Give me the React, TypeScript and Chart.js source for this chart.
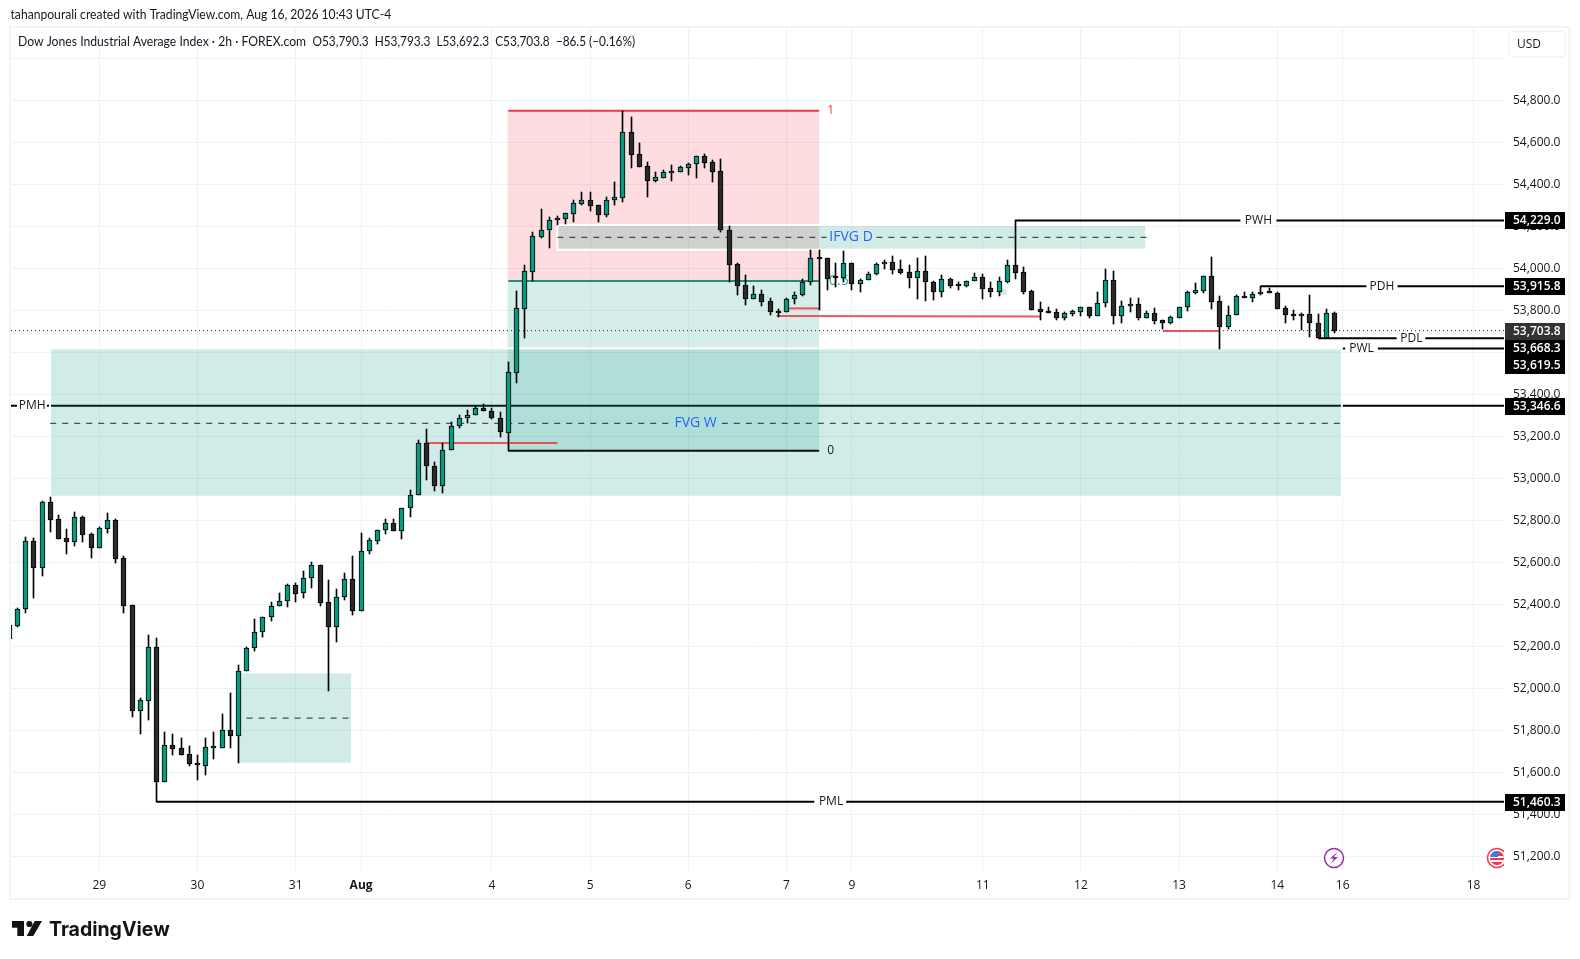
import React, { useEffect, useRef } from "react";
import { Chart, registerables } from "chart.js";

Chart.register(...registerables);

const FONT = '"Open Sans", "Noto Sans", sans-serif';
const HEAD = 'Lato, "Open Sans", sans-serif';
const TEXT = "#131722";
const UP = "#089981";
const DOWN = "#2a2a2a";

const firstBar = -11;
const opens = [52237,52299,52377,52701,52572,52887,52806,52715,52699,52815,52734,52671,52761,52801,52620,52396,51894,51942,52196,51556,51729,51715,51686,51639,51633,51718,51715,51801,51772,52082,52191,52267,52339,52391,52415,52491,52453,52525,52587,52410,52294,52434,52520,52371,52653,52704,52753,52787,52752,52858,52920,53167,53058,52966,53134,53248,53287,53301,53334,53320,53287,53218,53504,53809,53985,54152,54182,54229,54237,54261,54309,54325,54301,54255,54325,54337,54648,54544,54487,54418,54433,54456,54461,54480,54496,54534,54506,54463,54182,54020,53920,53853,53877,53844,53791,53791,53853,53872,53934,54048,54048,53955,53956,54025,53925,53944,53972,54020,54029,53996,53982,53953,53986,53934,53886,53948,53917,53918,53939,53958,53906,53890,53937,54015,53982,53891,53806,53796,53791,53766,53785,53794,53815,53775,53834,53944,53775,53820,53829,53766,53786,53753,53742,53766,53815,53885,53894,53963,53844,53723,53777,53867,53858,53877,53886,53882,53810,53777,53772,53782,53739,53671,53790.3];
const highs = [52301,52382,52720,52715,52893,52910,52825,52758,52839,52820,52739,52767,52834,52806,52629,52396,51953,52253,52239,51791,51782,51763,51725,51682,51763,51791,51877,51977,52110,52196,52329,52339,52412,52453,52496,52501,52558,52602,52587,52515,52472,52550,52631,52739,52715,52753,52806,52806,52858,52944,53182,53234,53077,53167,53267,53301,53325,53344,53353,53334,53315,53553,53891,54015,54172,54283,54244,54248,54263,54325,54363,54363,54301,54339,54410,54748,54720,54596,54506,54458,54468,54491,54487,54501,54534,54544,54515,54520,54201,54025,53967,53915,53896,53858,53806,53858,53886,53948,54086,54086,54048,54025,54082,54025,53948,53982,54025,54039,54058,54039,54015,54048,54058,53939,53967,53953,53934,53939,53977,53972,53934,53958,54039,54230,54006,53896,53839,53815,53806,53791,53801,53815,53815,53886,53996,53986,53844,53858,53858,53796,53810,53753,53772,53815,53891,53929,53963,54053,53867,53820,53872,53886,53886,53918,53906,53886,53820,53801,53786,53872,53782,53806,53793.3];
const lows = [52237,52294,52361,52433,52537,52747,52713,52642,52680,52699,52623,52671,52742,52599,52361,51866,51785,51852,51460,51556,51685,51685,51632,51566,51588,51666,51715,51718,51647,52082,52180,52247,52323,52391,52390,52414,52433,52480,52394,51987,52223,52423,52352,52371,52642,52690,52737,52748,52714,52818,52920,52994,52942,52933,53134,53239,53263,53301,53320,53282,53199,53133,53455,53671,53941,54147,54099,54207,54212,54221,54304,54275,54221,54247,54302,54318,54480,54485,54342,54412,54433,54417,54461,54447,54433,54480,54414,54172,53937,53875,53828,53853,53823,53780,53771,53791,53829,53867,53921,53802,53896,53910,53934,53896,53890,53944,53967,53996,53972,53972,53909,53856,53847,53852,53863,53906,53896,53913,53939,53856,53866,53871,53929,53950,53880,53804,53756,53790,53756,53756,53775,53775,53766,53775,53818,53737,53742,53791,53756,53766,53737,53710,53737,53766,53799,53877,53885,53809,53618,53714,53777,53858,53842,53872,53882,53809,53742,53753,53709,53675,53671,53671,53692.3];
const closes = [52301,52377,52701,52572,52887,52804,52713,52699,52815,52733,52671,52763,52801,52618,52394,51894,51944,52196,51556,51729,51713,51685,51639,51637,51720,51720,51801,51772,52082,52191,52267,52339,52391,52415,52491,52452,52525,52587,52409,52294,52434,52520,52371,52653,52706,52753,52787,52752,52858,52920,53167,53058,52966,53134,53248,53287,53301,53334,53320,53287,53220,53506,53810,53987,54153,54182,54229,54239,54263,54310,54325,54299,54256,54325,54339,54648,54542,54485,54418,54434,54458,54463,54482,54496,54534,54504,54461,54182,54018,53918,53853,53877,53842,53791,53790,53853,53872,53934,54048,54047,53952,53953,54025,53925,53944,53972,54020,54029,53994,53980,53953,53986,53934,53886,53948,53915,53915,53939,53958,53904,53890,53939,54015,53980,53890,53804,53794,53790,53766,53786,53796,53815,53775,53834,53944,53775,53820,53829,53766,53786,53752,53742,53767,53815,53886,53896,53963,53842,53723,53777,53867,53858,53877,53886,53885,53809,53777,53775,53782,53739,53671,53786,53703.8];

const xTickValues = [0, 12, 24, 32, 48, 60, 72, 84, 92, 108, 120, 132, 144, 152, 168];
const xTickLabels = ["29", "30", "31", "Aug", "4", "5", "6", "7", "9", "11", "12", "13", "14", "16", "18"];
const yTickValues = [51200,51400,51600,51800,52000,52200,52400,52600,52800,53000,53200,53400,53600,53800,54000,54200,54400,54600,54800,55000];

const xMin = -10.795, xMax = 171.72, yMin = 51130.8, yMax = 55145.2;
const lastPrice = 53703.8;

// level lines: [price, first bar, gap start, gap end, label]
const pmh = 53346.6, pml = 51460.3, pwh = 54229, pwl = 53619.5, pdh = 53915.8, pdl = 53668.3;
const fibOne = 54751.6, fibHalf = 53940.4, fibZero = 53132.6;
const levelLines: [number, number, number, number][] = [
  [pmh, xMin, -10.06, -6.39],
  [pml, 7, 87.4, 91.3],
  [pwh, 112, 139.5, 143.9],
  [pdh, 142, 154.9, 158.7],
  [pdl, 149, 158.6, 162.1],
  [pwl, 152, 152.3, 156.3],
];
const levelLabels: [string, number, number][] = [
  ["PMH", -8.2, pmh], ["PML", 89.45, pml], ["PWH", 141.7, pwh],
  ["PDH", 156.8, pdh], ["PDL", 160.4, pdl], ["PWL", 154.3, pwl],
];
// thin red sweep lines: x1, y1, x2, y2
const sweepLines: [number, number, number, number][] = [
  [40, 53169, 56, 53169],
  [84.3, 53810, 88, 53810],
  [82.8, 53774, 115, 53771],
  [130, 53702, 137, 53702],
];
// dashed middles: price, x1, x2, gap1, gap2
const midLines: [number, number, number, number, number][] = [
  [53262.8, -6, 151.9, 69.7, 76.1],
  [54148.5, 56, 128, 88.9, 95],
  [51859, 17, 30.9, 17, 18],
];
const boxFVGW = [-6.03, 151.9, pwl, 52913];
const boxIFVG = [56, 128, 54207, 54089.5];
const boxFVGSmall = [16.9, 30.9, 52076.7, 51641.8];
const boxRisk = [49.9, 88, fibOne, fibHalf];
const boxReward = [49.9, 88, fibHalf, fibZero];
const boxFragment = [109.9, 110.9, 53902, 53874];

// price tags: text, anchor price for the box, fill
const priceTags: [string, number, string][] = [
  ["54,229.0", 54229, "#000"], ["53,915.8", 53915.8, "#000"], ["53,703.8", 53703.8, "#333"],
  ["53,668.3", 53619.5, "#000"], ["53,619.5", 53540, "#000"], ["53,346.6", 53346.6, "#000"], ["51,460.3", 51460.3, "#000"],
];

const titleText = "tahanpourali created with TradingView.com, Aug 16, 2026 10:43 UTC-4";
const legendText = "Dow Jones Industrial Average Index · 2h · FOREX.com";
const legendOHLC = "O53,790.3  H53,793.3  L53,692.3  C53,703.8  −86.5 (−0.16%)";

const drawBox = (c: any, ctx: any, b: number[], fill: string, border: boolean) => {
  const { x, y } = c.scales;
  const l = x.getPixelForValue(b[0]), r = x.getPixelForValue(b[1]);
  const t = y.getPixelForValue(b[2]), bt = y.getPixelForValue(b[3]);
  ctx.fillStyle = fill;
  ctx.fillRect(l, t, r - l, bt - t);
  if (border) {
    ctx.strokeStyle = "#fff";
    ctx.lineWidth = 2;
    ctx.strokeRect(l, t, r - l, bt - t);
  }
};

const txt = (ctx: any, s: string, x: number, y: number, color: string, size = 12, align = "left", weight = "normal", family = FONT) => {
  ctx.fillStyle = color;
  ctx.font = `${weight} ${size}px ${family}`;
  ctx.textAlign = align;
  ctx.textBaseline = "middle";
  ctx.fillText(s, x, y);
};

// header text set narrower than the installed faces
const narrow = (ctx: any, s: string, x: number, y: number, k: number) => {
  ctx.save();
  ctx.translate(x, y);
  ctx.scale(k, 1);
  txt(ctx, s, 0, 0, TEXT, 13, "left", "normal", HEAD);
  ctx.restore();
};

const overlay = {
  id: "overlay",
  afterDatasetUpdate(c: any, args: any) {
    const meta = args.meta ?? c.getDatasetMeta(args.index);
    if (meta.type !== "bar") return;
    meta.data.forEach((el: any) => {
      el.x = Math.floor(el.x) + 0.5;
      el.y = Math.round(el.y);
      el.base = Math.round(el.base);
    });
  },
  beforeDatasetDraw(c: any, args: any) {
    if (c.data.datasets[args.index].label !== "fib1") return;
    const ctx = c.ctx;
    const { x, y } = c.scales;
    ctx.save();
    const a = c.chartArea;
    ctx.beginPath();
    ctx.rect(a.left, a.top, a.right - a.left, a.bottom - a.top);
    ctx.clip();
    drawBox(c, ctx, boxRisk, "rgba(242,54,69,0.17)", false);
    drawBox(c, ctx, boxReward, "rgba(8,153,129,0.17)", false);
    drawBox(c, ctx, boxFVGW, "rgba(8,153,129,0.19)", true);
    drawBox(c, ctx, boxFVGSmall, "rgba(8,153,129,0.19)", true);
    drawBox(c, ctx, boxIFVG, "rgba(8,153,129,0.19)", true);
    drawBox(c, ctx, boxFragment, "rgba(8,153,129,0.19)", false);
    txt(ctx, "0.5", x.getPixelForValue(89.2), y.getPixelForValue(fibHalf), "#2fa693", 14);
    ctx.restore();
  },
  afterDatasetsDraw(c: any) {
    const ctx = c.ctx;
    const { x, y } = c.scales;
    ctx.save();
    levelLabels.forEach(([s, i, p]) => txt(ctx, s, x.getPixelForValue(i), y.getPixelForValue(p), TEXT, 12, "center"));
    txt(ctx, "FVG W", x.getPixelForValue(72.9), y.getPixelForValue(53262.8), "#2962ff", 14, "center");
    txt(ctx, "IFVG D", x.getPixelForValue(91.9), y.getPixelForValue(54148.5), "#2962ff", 14, "center");
    txt(ctx, "1", x.getPixelForValue(89), y.getPixelForValue(fibOne), "#f23645", 12);
    txt(ctx, "0", x.getPixelForValue(89), y.getPixelForValue(fibZero), TEXT, 12);

    // economic-event icons on the time line
    const a = c.chartArea;
    ctx.beginPath();
    ctx.arc(1334, 858, 9.5, 0, Math.PI * 2);
    ctx.fillStyle = "#fff";
    ctx.fill();
    ctx.lineWidth = 1.5;
    ctx.strokeStyle = "#9c27b0";
    ctx.stroke();
    ctx.fillStyle = "#9c27b0";
    ctx.beginPath();
    ctx.moveTo(1337.5, 852); ctx.lineTo(1330, 858.5); ctx.lineTo(1334, 858.5);
    ctx.lineTo(1330.5, 864); ctx.lineTo(1338, 857); ctx.lineTo(1334, 857); ctx.closePath();
    ctx.fill();

    ctx.save();
    ctx.beginPath();
    ctx.rect(a.left, a.top, a.right - a.left, a.bottom - a.top);
    ctx.clip();
    ctx.beginPath();
    ctx.arc(1497, 858, 9.5, 0, Math.PI * 2);
    ctx.strokeStyle = "#f23645";
    ctx.lineWidth = 1.5;
    ctx.stroke();
    ctx.beginPath();
    ctx.arc(1497, 858, 7, 0, Math.PI * 2);
    ctx.clip();
    ctx.fillStyle = "#f23645";
    ctx.fillRect(1488, 850, 18, 16);
    ctx.fillStyle = "#fff";
    ctx.fillRect(1488, 856, 18, 2);
    ctx.fillRect(1488, 860, 18, 2);
    ctx.fillStyle = "#2f80ed";
    ctx.fillRect(1488, 850, 10, 7);
    ctx.restore();
    ctx.restore();
  },
  afterDraw(c: any) {
    const ctx = c.ctx;
    const { y } = c.scales;
    ctx.save();
    // chart frame
    ctx.strokeStyle = "#f2f3f5";
    ctx.lineWidth = 2;
    ctx.strokeRect(10, 27, 1559.5, 872);
    // price tags
    priceTags.forEach(([s, p, col]) => {
      const cy = Math.round(y.getPixelForValue(p));
      ctx.fillStyle = col;
      ctx.fillRect(1505, cy - 8, 60, 17);
      txt(ctx, s, 1513, cy + 0.5, "#fff", 12, "left", "600");
    });
    // currency button
    ctx.strokeStyle = "#f0f3fa";
    ctx.lineWidth = 1.5;
    ctx.beginPath();
    ctx.roundRect(1508.5, 31.5, 57, 25, 4);
    ctx.stroke();
    txt(ctx, "USD", 1517, 44.5, TEXT, 12);
    // header
    narrow(ctx, titleText, 10.5, 15, 0.933);
    narrow(ctx, legendText, 18, 42, 0.937);
    narrow(ctx, legendOHLC, 312.5, 42, 0.91);
    // brand
    ctx.fillStyle = "#131313";
    ctx.fillRect(12, 921, 12, 6.7);
    ctx.fillRect(17.3, 921, 6.7, 15);
    ctx.beginPath();
    ctx.arc(29.4, 924, 3.1, 0, Math.PI * 2);
    ctx.fill();
    ctx.beginPath();
    ctx.moveTo(34.7, 921); ctx.lineTo(42, 921); ctx.lineTo(33.3, 936); ctx.lineTo(26.7, 936);
    ctx.closePath();
    ctx.fill();
    txt(ctx, "TradingView", 49, 930.5, "#131313", 19.5, "left", "700", "Inter, sans-serif");
    ctx.restore();
  },
};

export default function App() {
  const ref = useRef<HTMLCanvasElement>(null);
  useEffect(() => {
    const bars = opens.map((_, k) => k + firstBar);
    const levelDatasets = levelLines.map(([p, start, g1, g2], k) => ({
      type: "line" as const,
      label: `level${k}`,
      order: 30,
      data: [
        { x: start, y: p }, { x: g1, y: p }, { x: g1 + 0.01, y: NaN }, { x: g2, y: p }, { x: xMax, y: p },
      ],
      borderColor: "#000",
      borderWidth: 2,
      pointRadius: 0,
      spanGaps: false,
    }));
    const lineBase = { type: "line" as const, pointRadius: 0, spanGaps: false };
    const chart = new Chart(ref.current!, {
      type: "bar",
      data: {
        datasets: [
          ...levelDatasets,
          { ...lineBase, label: "last", order: 29, data: [{ x: xMin, y: lastPrice }, { x: xMax, y: lastPrice }], borderColor: TEXT, borderWidth: 1, borderDash: [1, 3] },
          { ...lineBase, label: "fib1", order: 20, data: [{ x: 50, y: fibOne }, { x: 88, y: fibOne }], borderColor: "#f23645", borderWidth: 2 },
          { ...lineBase, label: "fib05", order: 19, data: [{ x: 50, y: fibHalf }, { x: 88, y: fibHalf }], borderColor: "#1f8f7c", borderWidth: 2 },
          { ...lineBase, label: "fib0", order: 19, data: [{ x: 50, y: fibZero }, { x: 88, y: fibZero }], borderColor: "#00140f", borderWidth: 2 },
          ...sweepLines.map(([a, p, b, q], k) => ({ ...lineBase, label: `sweep${k}`, order: 18, data: [{ x: a, y: p }, { x: b, y: q }], borderColor: "rgba(242,54,69,0.85)", borderWidth: 2 })),
          ...midLines.map(([p, a, b, g1, g2], k) => ({
            ...lineBase, label: `mid${k}`, order: 17,
            data: [{ x: a, y: p }, { x: g1, y: p }, { x: g1 + 0.01, y: NaN }, { x: g2, y: p }, { x: b, y: p }],
            borderColor: "#1b2a28", borderWidth: 1, borderDash: [6, 6],
          })),
          {
            label: "wicks", order: 2, grouped: false,
            data: bars.map((x, k) => ({ x, y: [lows[k], highs[k]] })),
            backgroundColor: "#000", borderWidth: 0, barThickness: 1, minBarLength: 1,
          } as any,
          {
            label: "bodies", order: 1, grouped: false,
            data: bars.map((x, k) => ({ x, y: [opens[k], closes[k]] })),
            backgroundColor: opens.map((o, k) => (closes[k] >= o ? UP : DOWN)),
            borderColor: "#000", borderWidth: 1, borderSkipped: false, barThickness: 5, minBarLength: 2,
          } as any,
        ],
      },
      options: {
        responsive: false,
        animation: false,
        devicePixelRatio: 1,
        layout: { padding: { left: 11, top: 28, right: 0, bottom: 0 } },
        plugins: { legend: { display: false }, tooltip: { enabled: false } },
        events: [],
        scales: {
          x: {
            type: "linear", min: xMin, max: xMax, offset: false,
            afterBuildTicks: (s: any) => { s.ticks = xTickValues.map((value) => ({ value })); },
            afterFit: (s: any) => { s.height = 88; },
            border: { display: false },
            grid: { color: "#f0f1f4", offset: false, drawTicks: false, lineWidth: 1 },
            ticks: {
              autoSkip: false, maxRotation: 0, padding: 7, color: TEXT,
              font: (c: any) => ({ family: FONT, size: 12, weight: c.tick?.value === 32 ? "bold" : "normal" }),
              callback: (v: any) => xTickLabels[xTickValues.indexOf(v)] ?? "",
            },
          },
          y: {
            type: "linear", position: "right", min: yMin, max: yMax,
            afterBuildTicks: (s: any) => { s.ticks = yTickValues.map((value) => ({ value })); },
            afterFit: (s: any) => { s.width = 76; },
            border: { display: false },
            grid: { color: "#f0f1f4", drawTicks: false, lineWidth: 1 },
            ticks: {
              autoSkip: false, padding: 9, color: TEXT, font: { family: FONT, size: 12 },
              callback: (v: any) => (v === 55000 ? "" : Number(v).toLocaleString("en-US", { minimumFractionDigits: 1 })),
            },
          },
        },
      } as any,
      plugins: [overlay],
    } as any);
    return () => chart.destroy();
  }, []);
  return (
    <div style={{ position: "absolute", left: 0, top: 0, width: 1580, height: 959, background: "#fff" }}>
      <canvas ref={ref} width={1580} height={959} style={{ display: "block" }} />
    </div>
  );
}
